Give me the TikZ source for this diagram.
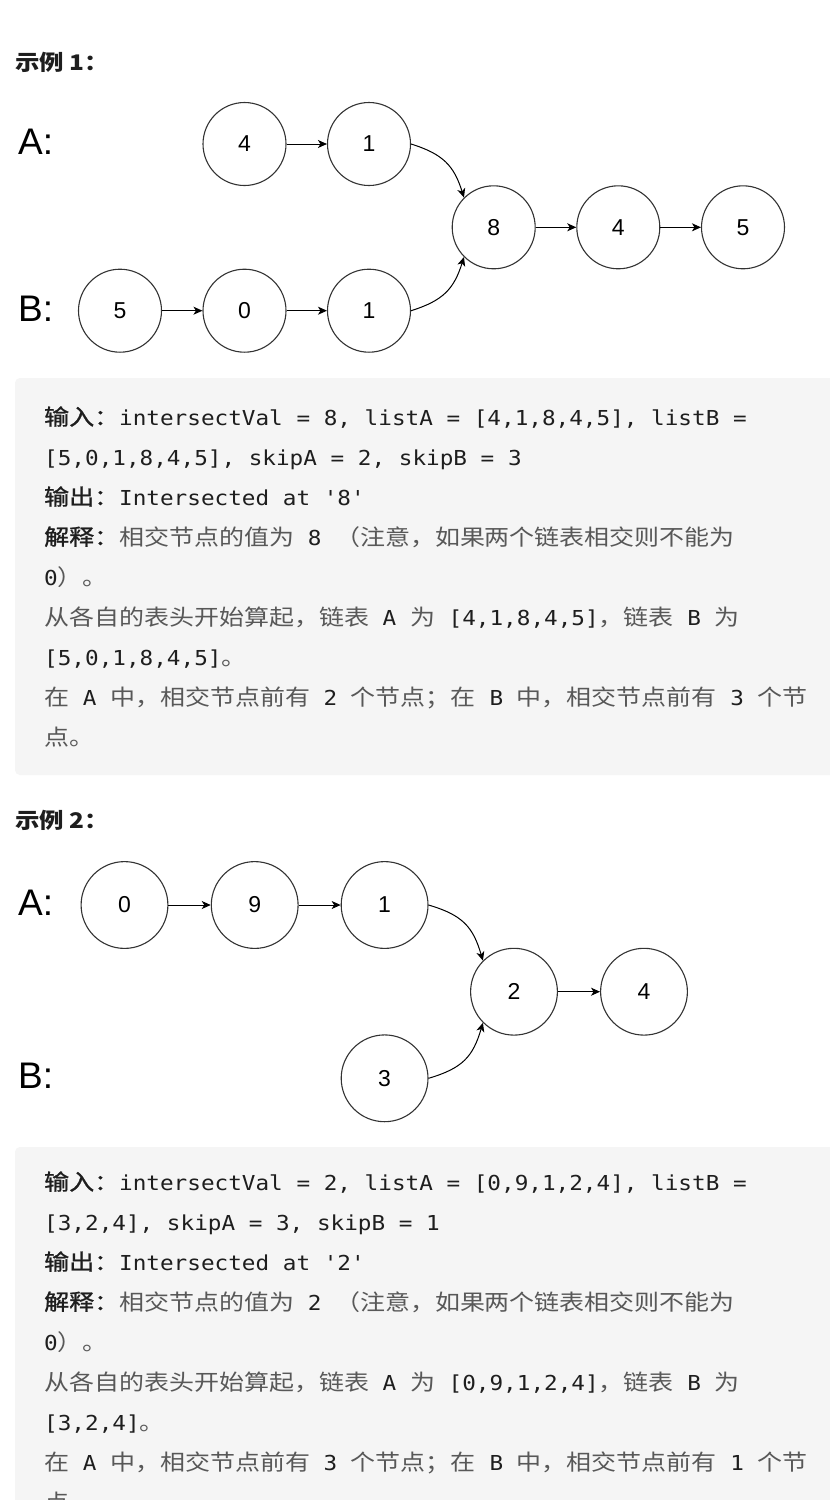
\documentclass[tikz,border=0pt]{standalone}
\usepackage{fontspec}
\usetikzlibrary{arrows.meta}
\setmainfont{Liberation Sans}
\newfontfamily\monof[FakeStretch=1.1,Ligatures=TeXOff]{DejaVu Sans Mono}
\newfontfamily\cjkf[FakeStretch=1.136]{Noto Sans CJK SC}
\newfontfamily\cjkm[FakeStretch=1.136,FakeBold=1.2]{Noto Sans CJK SC}
\definecolor{boxbg}{RGB}{245,245,245}
\definecolor{codeblack}{RGB}{30,30,30}
\definecolor{cjkgray}{RGB}{88,88,88}
\definecolor{circ}{RGB}{51,51,51}
\newcommand\mtxt[1]{{\color{codeblack}\monof\fontsize{20.6}{24}\selectfont#1}}
\newcommand\ctxt[1]{{\color{cjkgray}\cjkf\fontsize{22}{24}\selectfont#1}}
\newcommand\lbl[1]{{\color{codeblack}\cjkm\fontsize{22}{24}\selectfont#1}}
\tikzset{
  llnode/.style={circle, draw=circ, line width=1.1pt, inner sep=0pt, font=\fontsize{23}{23}\selectfont},
  smallnode/.style={llnode, minimum size=83pt},
  bignode/.style={llnode, minimum size=86.8pt},
  arr/.style={draw=black, line width=1pt, -{Stealth[length=9pt,width=8pt,inset=2.5pt]}},
  rowlabel/.style={anchor=base west, inner sep=0pt, font=\fontsize{37}{37}\selectfont, text=black},
  titletext/.style={anchor=base west, inner sep=0pt, font=\cjkf\bfseries\fontsize{21.5}{24}\selectfont, text=codeblack},
  textline/.style={anchor=base west, inner sep=0pt},
  codebox/.style={fill=boxbg, draw=none, rounded corners=5pt}
}
\begin{document}
\begin{tikzpicture}[x=1pt,y=-1pt]
\useasboundingbox (0,0) rectangle (830,1500);
\fill[white] (0,0) rectangle (830,1500);

% ---------- Example 1 ----------
\node[titletext] (t1) at (15,70) {示例 1：};
\node[rowlabel] (la1) at (18,154) {A:};
\node[rowlabel] (lb1) at (18,321) {B:};

\node[smallnode] (a4) at (244.5,144) {4};
\node[smallnode] (a1) at (369,144) {1};
\node[smallnode] (m8) at (493.7,227.3) {8};
\node[smallnode] (m4) at (618.3,227.3) {4};
\node[smallnode] (m5) at (743,227.3) {5};
\node[smallnode] (b5) at (120,310.7) {5};
\node[smallnode] (b0) at (244.5,310.7) {0};
\node[smallnode] (b1) at (369,310.7) {1};

\draw[arr] (a4) -- (a1);
\draw[arr] (m8) -- (m4);
\draw[arr] (m4) -- (m5);
\draw[arr] (b5) -- (b0);
\draw[arr] (b0) -- (b1);
\draw[arr] (a1.east) .. controls +(32,10) and +(-10,-32) .. (m8.135);
\draw[arr] (b1.east) .. controls +(32,-10) and +(-10,32) .. (m8.225);

\fill[codebox] (15,378) rectangle (850,775);
\node[textline] (p1l1) at (44,425) {\lbl{输入：}\mtxt{intersectVal = 8, listA = [4,1,8,4,5], listB =}};
\node[textline] (p1l2) at (44,465) {\mtxt{[5,0,1,8,4,5], skipA = 2, skipB = 3}};
\node[textline] (p1l3) at (44,505) {\lbl{输出：}\mtxt{Intersected at '8'}};
\node[textline] (p1l4) at (44,545) {\lbl{解释：}\ctxt{相交节点的值为}\mtxt{ 8 }\ctxt{（注意，如果两个链表相交则不能为}};
\node[textline] (p1l5) at (44,585) {\mtxt{0}\ctxt{）。}};
\node[textline] (p1l6) at (44,625) {\ctxt{从各自的表头开始算起，链表}\mtxt{ A }\ctxt{为}\mtxt{ [4,1,8,4,5]}\ctxt{，链表}\mtxt{ B }\ctxt{为}};
\node[textline] (p1l7) at (44,665) {\mtxt{[5,0,1,8,4,5]}\ctxt{。}};
\node[textline] (p1l8) at (44,705) {\ctxt{在}\mtxt{ A }\ctxt{中，相交节点前有}\mtxt{ 2 }\ctxt{个节点；在}\mtxt{ B }\ctxt{中，相交节点前有}\mtxt{ 3 }\ctxt{个节}};
\node[textline] (p1l9) at (44,745) {\ctxt{点。}};

% ---------- Example 2 ----------
\node[titletext] (t2) at (15,828) {示例 2：};
\node[rowlabel] (la2) at (18,915) {A:};
\node[rowlabel] (lb2) at (18,1088) {B:};

\node[bignode] (c0) at (124.5,905) {0};
\node[bignode] (c9) at (254.7,905) {9};
\node[bignode] (c1) at (384.6,905) {1};
\node[bignode] (c2) at (514,991.7) {2};
\node[bignode] (c4) at (644,991.7) {4};
\node[bignode] (c3) at (384.6,1078.3) {3};

\draw[arr] (c0) -- (c9);
\draw[arr] (c9) -- (c1);
\draw[arr] (c2) -- (c4);
\draw[arr] (c1.east) .. controls +(34,10) and +(-10,-34) .. (c2.135);
\draw[arr] (c3.east) .. controls +(34,-10) and +(-10,34) .. (c2.225);

\fill[codebox] (15,1147) rectangle (850,1530);
\node[textline] (p2l1) at (44,1190) {\lbl{输入：}\mtxt{intersectVal = 2, listA = [0,9,1,2,4], listB =}};
\node[textline] (p2l2) at (44,1230) {\mtxt{[3,2,4], skipA = 3, skipB = 1}};
\node[textline] (p2l3) at (44,1270) {\lbl{输出：}\mtxt{Intersected at '2'}};
\node[textline] (p2l4) at (44,1310) {\lbl{解释：}\ctxt{相交节点的值为}\mtxt{ 2 }\ctxt{（注意，如果两个链表相交则不能为}};
\node[textline] (p2l5) at (44,1350) {\mtxt{0}\ctxt{）。}};
\node[textline] (p2l6) at (44,1390) {\ctxt{从各自的表头开始算起，链表}\mtxt{ A }\ctxt{为}\mtxt{ [0,9,1,2,4]}\ctxt{，链表}\mtxt{ B }\ctxt{为}};
\node[textline] (p2l7) at (44,1430) {\mtxt{[3,2,4]}\ctxt{。}};
\node[textline] (p2l8) at (44,1470) {\ctxt{在}\mtxt{ A }\ctxt{中，相交节点前有}\mtxt{ 3 }\ctxt{个节点；在}\mtxt{ B }\ctxt{中，相交节点前有}\mtxt{ 1 }\ctxt{个节}};
\node[textline] (p2l9) at (44,1510) {\ctxt{点。}};
\end{tikzpicture}
\end{document}
